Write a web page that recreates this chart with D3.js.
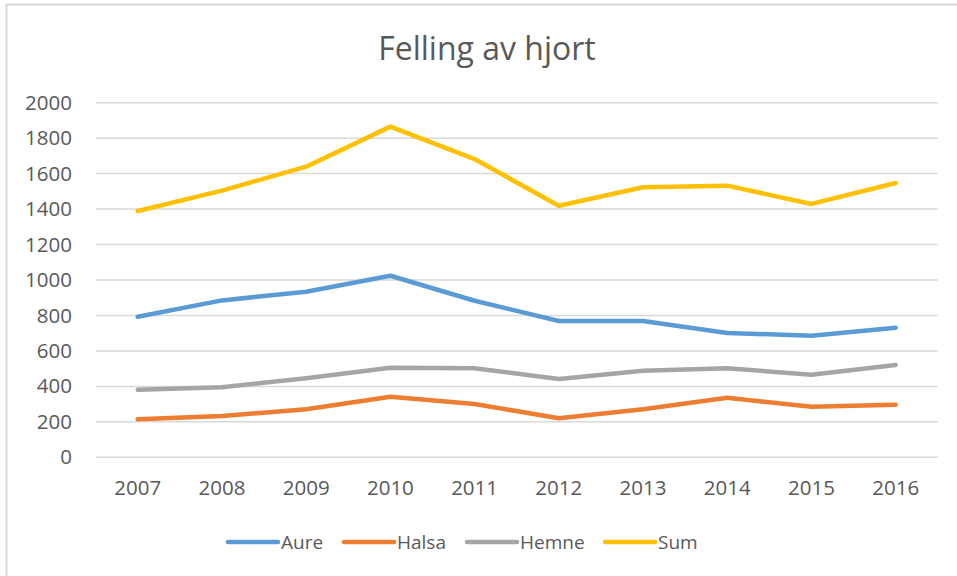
<!DOCTYPE html>
<html>
  <head>
    <meta charset="utf-8">
    <title>Felling av hjort</title>
    <script src="https://d3js.org/d3.v7.min.js"></script>
    <style>
      body { margin: 0; background: #fff; }
      text { font-family: "Open Sans", sans-serif; fill: #595959; }
      .grid line { stroke: #d9d9d9; stroke-width: 1.5px; }
      .series { fill: none; stroke-width: 4.5px; stroke-linejoin: round; stroke-linecap: round; }
    </style>
  </head>
  <body>
    <div id="chart"></div>

    <script>
      // Data
      const years = ["2007", "2008", "2009", "2010", "2011", "2012", "2013", "2014", "2015", "2016"];
      const aure = [793, 885, 934, 1024, 883, 769, 769, 701, 686, 731];
      const halsa = [214, 233, 271, 342, 301, 220, 271, 336, 285, 297];
      const hemne = [381, 395, 446, 505, 502, 442, 488, 502, 466, 521];
      const sum = [1389, 1504, 1639, 1865, 1682, 1419, 1523, 1532, 1429, 1547];
      const yTicks = [0, 200, 400, 600, 800, 1000, 1200, 1400, 1600, 1800, 2000];

      const seriesNames = ["Aure", "Halsa", "Hemne", "Sum"];
      const seriesValues = [aure, halsa, hemne, sum];
      const colors = ["#5b9bd5", "#ed7d31", "#a5a5a5", "#ffc000"];

      const width = 957, height = 576;
      const plot = { left: 95.6, right: 937.8, top: 102.7, bottom: 457.3 };

      const svg = d3.select("#chart")
        .append("svg")
        .attr("width", width)
        .attr("height", height);

      // chart frame (only top and left edges visible)
      svg.append("path")
        .attr("d", `M6.5,${height} V4.5 H${width}`)
        .attr("fill", "none")
        .attr("stroke", "#d9d9d9")
        .attr("stroke-width", 2);

      const x = d3.scaleBand().domain(years).range([plot.left, plot.right]);
      const y = d3.scaleLinear().domain([0, 2000]).range([plot.bottom, plot.top]);

      // gridlines
      svg.append("g")
        .attr("class", "grid")
        .selectAll("line")
        .data(yTicks)
        .enter()
        .append("line")
        .attr("x1", plot.left)
        .attr("x2", plot.right)
        .attr("y1", d => y(d))
        .attr("y2", d => y(d));

      // y axis labels
      const yAxis = svg.append("g")
        .attr("transform", "translate(72,0)")
        .call(d3.axisLeft(y).tickValues(yTicks).tickFormat(d3.format("d")).tickSize(0).tickPadding(0));
      yAxis.select(".domain").remove();
      yAxis.selectAll("text")
        .style("font-size", "20.5px")
        .style("font-family", "'Open Sans', sans-serif")
        .attr("fill", "#595959");

      // x axis labels
      const xAxis = svg.append("g")
        .attr("transform", `translate(0,${plot.bottom})`)
        .call(d3.axisBottom(x).tickSize(0).tickPadding(0));
      xAxis.select(".domain").remove();
      xAxis.selectAll("text")
        .attr("dy", null)
        .attr("y", 38)
        .style("font-size", "20.5px")
        .style("font-family", "'Open Sans', sans-serif")
        .attr("fill", "#595959");

      // lines
      const line = d3.line()
        .x((d, i) => x(years[i]) + x.bandwidth() / 2)
        .y(d => y(d));

      svg.selectAll(".series")
        .data(seriesValues)
        .enter()
        .append("path")
        .attr("class", "series")
        .attr("stroke", (d, i) => colors[i])
        .attr("d", line);

      // title
      svg.append("text")
        .attr("x", 487)
        .attr("y", 60)
        .attr("text-anchor", "middle")
        .style("font-size", "32px")
        .text("Felling av hjort");

      // legend
      const legendX = [228, 344, 467, 605];
      const legend = svg.append("g").attr("transform", "translate(0,542)");
      seriesNames.forEach((name, i) => {
        const item = legend.append("g").attr("transform", `translate(${legendX[i]},0)`);
        item.append("line")
          .attr("x1", 0).attr("x2", 50)
          .attr("stroke", colors[i])
          .attr("stroke-width", 4.5)
          .attr("stroke-linecap", "round");
        item.append("text")
          .attr("x", 53)
          .attr("dy", "0.35em")
          .style("font-size", "19px")
          .text(name);
      });
    </script>
  </body>
</html>
